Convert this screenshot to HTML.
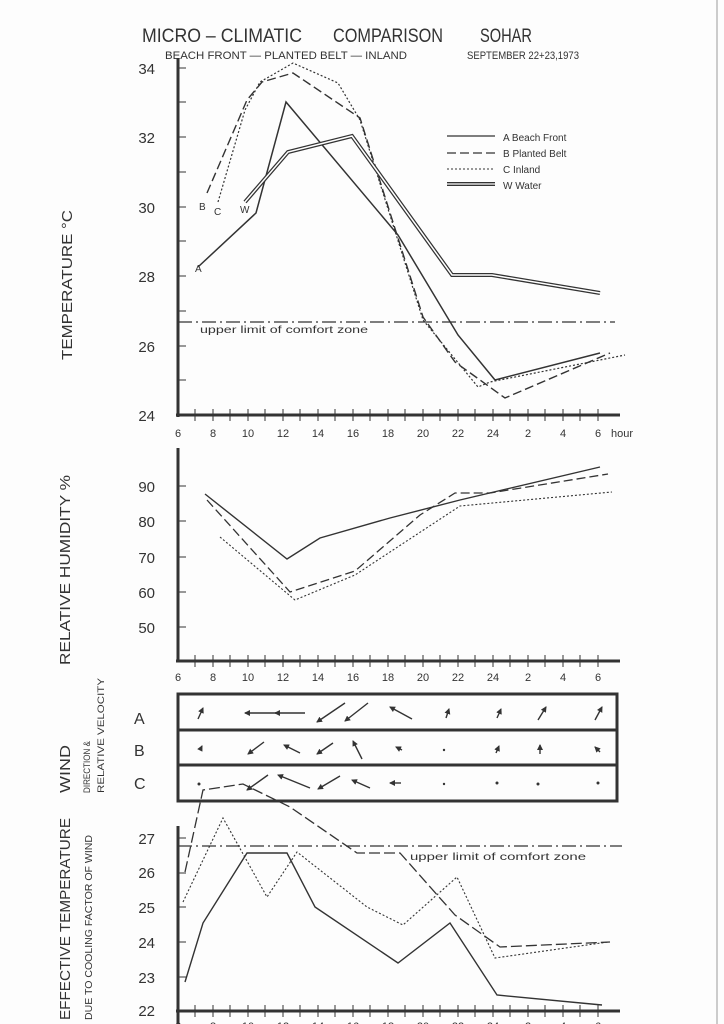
<!DOCTYPE html>
<html><head><meta charset="utf-8"><style>
html,body{margin:0;padding:0;background:#fff;}
svg{display:block;}
text{font-family:"Liberation Sans",sans-serif;fill:#333;}
</style></head><body>
<svg width="724" height="1024" viewBox="0 0 724 1024" xmlns="http://www.w3.org/2000/svg">
<defs>
<marker id="ah" markerWidth="6" markerHeight="6" refX="5" refY="3" orient="auto" markerUnits="userSpaceOnUse"><path d="M0,0 L6,3 L0,6 z" fill="#333"/></marker>
</defs>
<rect width="724" height="1024" fill="#fdfdfd"/>
<line x1="717" y1="0" x2="717" y2="1024" stroke="#ccc" stroke-width="2"/>

<!-- Titles -->
<text x="142" y="42" font-size="19" textLength="160" lengthAdjust="spacingAndGlyphs">MICRO – CLIMATIC</text>
<text x="333" y="42" font-size="19" textLength="110" lengthAdjust="spacingAndGlyphs">COMPARISON</text>
<text x="480" y="42" font-size="19" textLength="52" lengthAdjust="spacingAndGlyphs">SOHAR</text>
<text x="165" y="59" font-size="11" textLength="242" lengthAdjust="spacingAndGlyphs">BEACH FRONT — PLANTED BELT — INLAND</text>
<text x="467" y="59" font-size="11" textLength="112" lengthAdjust="spacingAndGlyphs">SEPTEMBER 22+23,1973</text>

<!-- Side labels -->
<text transform="translate(72,360) rotate(-90)" font-size="15" textLength="150" lengthAdjust="spacingAndGlyphs">TEMPERATURE °C</text>
<text transform="translate(70,665) rotate(-90)" font-size="15" textLength="190" lengthAdjust="spacingAndGlyphs">RELATIVE HUMIDITY %</text>
<text transform="translate(70,793) rotate(-90)" font-size="15" textLength="48" lengthAdjust="spacingAndGlyphs">WIND</text>
<text transform="translate(90,793) rotate(-90)" font-size="9" textLength="52" lengthAdjust="spacingAndGlyphs">DIRECTION &amp;</text>
<text transform="translate(104,793) rotate(-90)" font-size="9" textLength="115" lengthAdjust="spacingAndGlyphs">RELATIVE VELOCITY</text>
<text transform="translate(70,1020) rotate(-90)" font-size="15" textLength="202" lengthAdjust="spacingAndGlyphs">EFFECTIVE TEMPERATURE</text>
<text transform="translate(92,1020) rotate(-90)" font-size="10" textLength="185" lengthAdjust="spacingAndGlyphs">DUE TO COOLING FACTOR OF WIND</text>

<g stroke="#333" fill="none">
<line x1="178" y1="58" x2="178" y2="417" stroke-width="3"/>
<line x1="176" y1="415" x2="620" y2="415" stroke-width="3"/>
<path d="M178,68h8M178,102h8M178,137h8M178,172h8M178,207h8M178,241h8M178,276h8M178,311h8M178,346h8M178,380h8"/>
<path d="M195,409v12M213,409v12M230,409v12M248,409v12M265,409v12M283,409v12M300,409v12M318,409v12M335,409v12M353,409v12M370,409v12M388,409v12M405,409v12M423,409v12M440,409v12M458,409v12M475,409v12M493,409v12M510,409v12M528,409v12M545,409v12M563,409v12M580,409v12M598,409v12"/>
<line x1="178" y1="322" x2="615" y2="322" stroke-width="1.3" stroke-dasharray="14,4,2,4"/>
<polyline points="198,267 256,213 286,102 398,235 458,335 495,380 600,353" stroke-width="1.5"/>
<polyline points="207,193 247,100 262,82 293,73 360,118 423,317 455,362 505,398 610,353" stroke-width="1.4" stroke-dasharray="9,4"/>
<polyline points="218,202 245,110 260,82 293,63 338,83 360,120 423,320 478,387 490,382 625,355" stroke-width="1.2" stroke-dasharray="2,2"/>
<polyline points="245,202 288,152 352,136 452,275 492,275 600,293" stroke-width="4"/>
<polyline points="245,202 288,152 352,136 452,275 492,275 600,293" stroke-width="1.5" stroke="#fff"/>
<line x1="447" y1="136" x2="495" y2="136" stroke-width="1.3"/>
<line x1="447" y1="153" x2="495" y2="153" stroke-width="1.3" stroke-dasharray="9,4"/>
<line x1="447" y1="169" x2="495" y2="169" stroke-width="1" stroke-dasharray="2,2"/>
<line x1="447" y1="184" x2="495" y2="184" stroke-width="4"/>
<line x1="447" y1="184" x2="495" y2="184" stroke-width="1.3" stroke="#fff"/>
</g>
<g font-size="10">
<text x="503" y="141">A  Beach Front</text>
<text x="503" y="157">B  Planted Belt</text>
<text x="503" y="173">C  Inland</text>
<text x="503" y="189">W  Water</text>
<text x="199" y="210">B</text><text x="214" y="215">C</text><text x="240" y="213">W</text><text x="195" y="272">A</text>
<text x="200" y="333" textLength="168" lengthAdjust="spacingAndGlyphs">upper limit of comfort zone</text>
</g>
<g font-size="15" text-anchor="end">
<text x="155" y="74">34</text><text x="155" y="143">32</text><text x="155" y="213">30</text><text x="155" y="282">28</text><text x="155" y="352">26</text><text x="155" y="421">24</text>
</g>
<g font-size="11" text-anchor="middle">
<text x="178" y="437">6</text><text x="213" y="437">8</text><text x="248" y="437">10</text><text x="283" y="437">12</text><text x="318" y="437">14</text><text x="353" y="437">16</text><text x="388" y="437">18</text><text x="423" y="437">20</text><text x="458" y="437">22</text><text x="493" y="437">24</text><text x="528" y="437">2</text><text x="563" y="437">4</text><text x="598" y="437">6</text><text x="622" y="437">hour</text>
</g>

<g stroke="#333" fill="none">
<line x1="178" y1="448" x2="178" y2="662" stroke-width="3"/>
<line x1="176" y1="661" x2="620" y2="661" stroke-width="3"/>
<path d="M178,486h8M178,521h8M178,557h8M178,592h8M178,627h8"/>
<path d="M195,655v12M213,655v12M230,655v12M248,655v12M265,655v12M283,655v12M300,655v12M318,655v12M335,655v12M353,655v12M370,655v12M388,655v12M405,655v12M423,655v12M440,655v12M458,655v12M475,655v12M493,655v12M510,655v12M528,655v12M545,655v12M563,655v12M580,655v12M598,655v12"/>
<polyline points="205,494 287,559 320,538 390,518 460,500 600,467" stroke-width="1.4"/>
<polyline points="207,500 290,592 355,571 420,515 455,493 490,493 608,474" stroke-width="1.3" stroke-dasharray="9,4"/>
<polyline points="220,537 295,600 355,575 460,506 612,492" stroke-width="1.1" stroke-dasharray="2,2"/>
</g>
<g font-size="15" text-anchor="end">
<text x="155" y="492">90</text><text x="155" y="527">80</text><text x="155" y="563">70</text><text x="155" y="598">60</text><text x="155" y="633">50</text>
</g>
<g font-size="11" text-anchor="middle">
<text x="178" y="681">6</text><text x="213" y="681">8</text><text x="248" y="681">10</text><text x="283" y="681">12</text><text x="318" y="681">14</text><text x="353" y="681">16</text><text x="388" y="681">18</text><text x="423" y="681">20</text><text x="458" y="681">22</text><text x="493" y="681">24</text><text x="528" y="681">2</text><text x="563" y="681">4</text><text x="598" y="681">6</text>
</g>

<g stroke="#333" fill="none" stroke-width="3">
<rect x="178" y="694" width="439" height="107"/>
<line x1="178" y1="730" x2="617" y2="730"/>
<line x1="178" y1="765" x2="617" y2="765"/>
</g>
<g font-size="16"><text x="134" y="724">A</text><text x="134" y="756">B</text><text x="134" y="789">C</text></g>
<g stroke="#333" stroke-width="1.4" marker-end="url(#ah)">
<line x1="198" y1="719" x2="203" y2="708"/>
<line x1="280" y1="713" x2="245" y2="713"/>
<line x1="305" y1="713" x2="275" y2="713"/>
<line x1="345" y1="703" x2="317" y2="722"/>
<line x1="368" y1="703" x2="345" y2="721"/>
<line x1="412" y1="719" x2="390" y2="707"/>
<line x1="446" y1="718" x2="449" y2="709"/>
<line x1="497" y1="718" x2="501" y2="709"/>
<line x1="538" y1="720" x2="546" y2="707"/>
<line x1="595" y1="720" x2="602" y2="707"/>
<line x1="200" y1="750" x2="202" y2="746"/>
<line x1="264" y1="742" x2="248" y2="754"/>
<line x1="300" y1="753" x2="284" y2="745"/>
<line x1="333" y1="743" x2="317" y2="754"/>
<line x1="362" y1="759" x2="353" y2="741"/>
<line x1="402" y1="750" x2="396" y2="747"/>
<line x1="496" y1="753" x2="499" y2="746"/>
<line x1="540" y1="754" x2="540" y2="745"/>
<line x1="600" y1="752" x2="595" y2="747"/>
<line x1="268" y1="775" x2="247" y2="790"/>
<line x1="310" y1="788" x2="278" y2="775"/>
<line x1="340" y1="776" x2="318" y2="789"/>
<line x1="370" y1="788" x2="352" y2="780"/>
<line x1="401" y1="783" x2="390" y2="783"/>
</g>
<g fill="#333"><circle cx="199" cy="784" r="1.5"/><circle cx="444" cy="784" r="1.2"/><circle cx="444" cy="750" r="1.2"/><circle cx="497" cy="783" r="1.5"/><circle cx="538" cy="784" r="1.5"/><circle cx="598" cy="783" r="1.5"/></g>

<g stroke="#333" fill="none">
<line x1="178" y1="826" x2="178" y2="1024" stroke-width="3"/>
<line x1="176" y1="1011" x2="620" y2="1011" stroke-width="3"/>
<path d="M178,838h8M178,873h8M178,907h8M178,942h8M178,977h8"/>
<path d="M195,1005v12M213,1005v12M230,1005v12M248,1005v12M265,1005v12M283,1005v12M300,1005v12M318,1005v12M335,1005v12M353,1005v12M370,1005v12M388,1005v12M405,1005v12M423,1005v12M440,1005v12M458,1005v12M475,1005v12M493,1005v12M510,1005v12M528,1005v12M545,1005v12M563,1005v12M580,1005v12M598,1005v12"/>
<line x1="178" y1="846" x2="622" y2="846" stroke-width="1.3" stroke-dasharray="14,4,2,4"/>
<polyline points="185,982 203,923 247,853 287,853 315,907 398,963 450,923 497,995 602,1005" stroke-width="1.4"/>
<polyline points="183,902 223,818 267,897 297,852 367,907 403,925 457,877 495,958 608,942" stroke-width="1.1" stroke-dasharray="2,2"/>
<polyline points="185,872 203,790 243,784 290,807 357,853 400,853 455,915 500,947 610,942" stroke-width="1.3" stroke-dasharray="11,4"/>
</g>
<text x="410" y="860" font-size="10" textLength="176" lengthAdjust="spacingAndGlyphs">upper limit of comfort zone</text>
<g font-size="15" text-anchor="end">
<text x="155" y="844">27</text><text x="155" y="878">26</text><text x="155" y="913">25</text><text x="155" y="948">24</text><text x="155" y="983">23</text><text x="155" y="1016">22</text>
</g>
<g font-size="11" text-anchor="middle">
<text x="178" y="1030">6</text><text x="213" y="1030">8</text><text x="248" y="1030">10</text><text x="283" y="1030">12</text><text x="318" y="1030">14</text><text x="353" y="1030">16</text><text x="388" y="1030">18</text><text x="423" y="1030">20</text><text x="458" y="1030">22</text><text x="493" y="1030">24</text><text x="528" y="1030">2</text><text x="563" y="1030">4</text><text x="598" y="1030">6</text>
</g>
</svg>
</body></html>
